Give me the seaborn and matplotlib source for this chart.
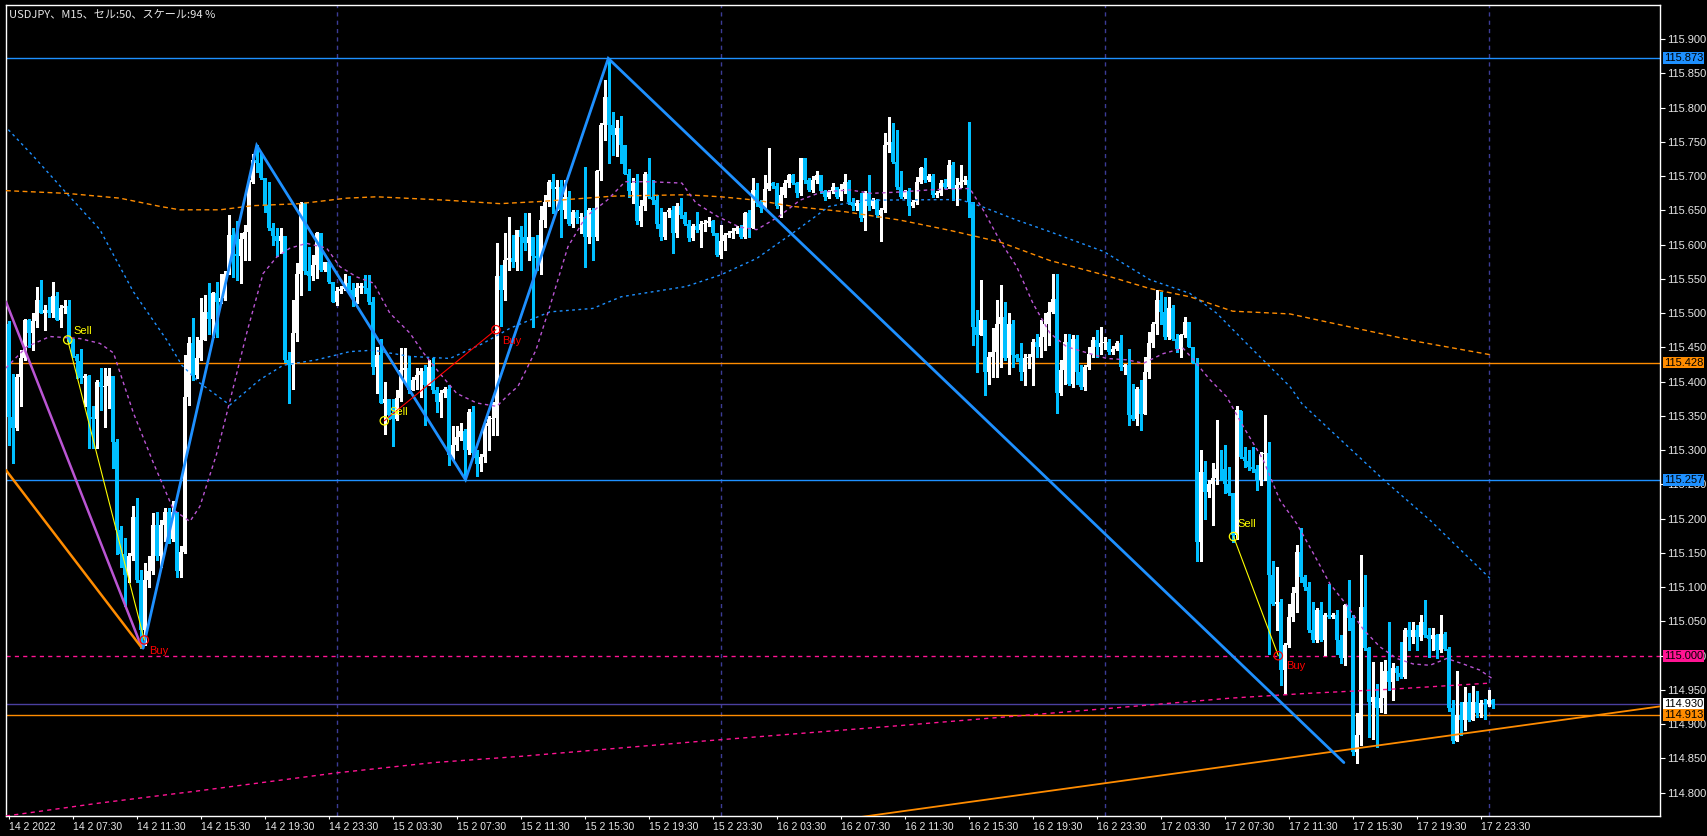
import numpy as np
import pandas as pd
import matplotlib
matplotlib.use("Agg")
import matplotlib.pyplot as plt
import seaborn as sns

# ---------------- data ----------------
open0 = 115.485
closes = [
115.349,115.332,115.407,115.434,115.490,115.471,115.488,115.519,115.501,115.505,
115.500,115.525,115.490,115.507,115.510,115.458,115.437,115.430,115.405,115.408,
115.349,115.345,115.400,115.393,115.394,115.408,115.312,115.183,115.149,115.118,
115.145,115.203,115.110,115.038,115.111,115.123,115.191,115.145,115.191,115.210,
115.170,115.210,115.123,115.152,115.378,115.456,115.410,115.434,115.461,115.502,
115.492,115.529,115.517,115.522,115.558,115.614,115.587,115.583,115.609,115.619,
115.692,115.724,115.720,115.697,115.658,115.624,115.613,115.605,115.613,115.432,
115.425,115.471,115.558,115.661,115.561,115.555,115.571,115.617,115.563,115.575,
115.546,115.517,115.533,115.536,115.544,115.534,115.524,115.537,115.540,115.537,
115.517,115.422,115.439,115.369,115.375,115.352,115.345,115.376,115.417,115.420,
115.388,115.403,115.410,115.415,115.395,115.422,115.388,115.371,115.383,115.390,
115.293,115.308,115.320,115.328,115.300,115.356,115.296,115.280,115.290,115.335,
115.345,115.347,115.554,115.534,115.578,115.580,115.575,115.622,115.612,115.602,
115.612,115.583,115.580,115.636,115.663,115.692,115.682,115.684,115.651,115.670,
115.631,115.648,115.639,115.641,115.612,115.651,115.612,115.707,115.775,115.816,
115.775,115.760,115.770,115.746,115.704,115.678,115.690,115.634,115.656,115.704,
115.670,115.665,115.631,115.612,115.648,115.651,115.617,115.656,115.644,115.631,
115.610,115.627,115.622,115.631,115.632,115.634,115.617,115.585,115.605,115.614,
115.617,115.620,115.624,115.612,115.646,115.624,115.680,115.661,115.653,115.682,
115.690,115.686,115.656,115.673,115.690,115.702,115.690,115.675,115.726,115.695,
115.680,115.695,115.702,115.678,115.670,115.678,115.685,115.670,115.682,115.692,
115.663,115.656,115.661,115.639,115.675,115.656,115.665,115.644,115.651,115.746,
115.750,115.721,115.685,115.670,115.678,115.656,115.663,115.692,115.712,115.695,
115.700,115.673,115.675,115.690,115.685,115.716,115.682,115.687,115.692,115.694,
115.663,115.480,115.468,115.490,115.414,115.436,115.443,115.485,115.495,115.434,
115.485,115.439,115.434,115.414,115.434,115.436,115.458,115.451,115.466,115.485,
115.502,115.521,115.383,115.417,115.458,115.397,115.463,115.414,115.392,115.422,
115.441,115.461,115.451,115.456,115.458,115.444,115.448,115.456,115.422,115.424,
115.351,115.346,115.390,115.353,115.414,115.456,115.485,115.519,115.502,115.465,
115.507,115.463,115.448,115.468,115.487,115.451,115.427,115.166,115.268,115.239,
115.251,115.259,115.273,115.272,115.251,115.237,115.176,115.358,115.290,115.285,
115.276,115.273,115.256,115.295,115.296,115.118,115.076,115.079,114.979,115.015,
115.057,115.091,115.152,115.115,115.101,115.037,115.023,115.067,115.023,115.059,
115.057,115.060,115.023,114.996,115.074,115.055,114.860,114.884,115.071,115.011,
114.933,114.940,114.923,114.938,114.977,114.962,114.982,114.975,114.969,115.037,
115.028,115.038,115.028,115.049,115.030,115.025,115.030,115.008,115.032,115.010,
114.923,114.875,114.913,114.906,114.933,114.906,114.933,114.917,114.931,114.929,
114.936,114.930]
highs = [
115.488,115.412,115.412,115.446,115.492,115.492,115.500,115.539,115.548,115.512,
115.524,115.546,115.531,115.512,115.520,115.519,115.463,115.441,115.448,115.412,
115.410,115.364,115.402,115.420,115.420,115.420,115.408,115.317,115.190,115.172,
115.150,115.219,115.230,115.125,115.136,115.146,115.208,115.210,115.198,115.215,
115.215,115.226,115.198,115.160,115.439,115.466,115.493,115.466,115.522,115.527,
115.544,115.531,115.546,115.558,115.561,115.643,115.624,115.634,115.617,115.629,
115.694,115.733,115.745,115.734,115.697,115.692,115.632,115.624,115.624,115.613,
115.444,115.519,115.573,115.663,115.661,115.597,115.585,115.619,115.617,115.575,
115.561,115.546,115.539,115.540,115.558,115.554,115.544,115.544,115.544,115.556,
115.556,115.524,115.451,115.463,115.400,115.375,115.375,115.388,115.449,115.449,
115.437,115.407,115.420,115.420,115.425,115.431,115.434,115.393,115.388,115.393,
115.395,115.335,115.335,115.340,115.331,115.360,115.365,115.300,115.295,115.340,
115.350,115.370,115.602,115.571,115.617,115.641,115.614,115.622,115.627,115.646,
115.646,115.612,115.614,115.656,115.673,115.695,115.704,115.695,115.695,115.695,
115.678,115.651,115.650,115.646,115.714,115.653,115.653,115.709,115.777,115.841,
115.872,115.794,115.782,115.788,115.746,115.710,115.697,115.704,115.665,115.706,
115.726,115.695,115.673,115.653,115.648,115.654,115.656,115.661,115.668,115.648,
115.636,115.631,115.648,115.634,115.636,115.640,115.636,115.617,115.629,115.617,
115.620,115.624,115.627,115.629,115.648,115.650,115.697,115.690,115.665,115.702,
115.741,115.692,115.690,115.685,115.695,115.704,115.704,115.692,115.727,115.727,
115.697,115.700,115.707,115.702,115.680,115.680,115.690,115.685,115.688,115.703,
115.694,115.668,115.665,115.675,115.678,115.702,115.668,115.667,115.654,115.763,
115.787,115.777,115.768,115.707,115.680,115.683,115.665,115.699,115.714,115.726,
115.704,115.704,115.678,115.694,115.696,115.724,115.721,115.697,115.716,115.701,
115.779,115.663,115.504,115.548,115.490,115.443,115.478,115.519,115.541,115.517,
115.500,115.490,115.440,115.456,115.441,115.440,115.463,115.470,115.490,115.500,
115.517,115.558,115.558,115.431,115.470,115.470,115.468,115.468,115.424,115.424,
115.451,115.465,115.475,115.480,115.465,115.463,115.452,115.460,115.468,115.426,
115.448,115.397,115.392,115.402,115.436,115.473,115.487,115.534,115.531,115.524,
115.524,115.512,115.470,115.470,115.495,115.487,115.451,115.434,115.300,115.285,
115.256,115.281,115.344,115.300,115.307,115.276,115.234,115.365,115.358,115.305,
115.300,115.305,115.278,115.297,115.351,115.312,115.139,115.130,115.083,115.018,
115.076,115.101,115.161,115.186,115.118,115.108,115.079,115.069,115.079,115.062,
115.105,115.062,115.067,115.030,115.076,115.110,115.059,114.916,115.147,115.118,
115.013,114.991,114.959,114.991,114.994,115.049,114.989,114.985,115.020,115.040,
115.049,115.049,115.045,115.059,115.081,115.040,115.040,115.032,115.059,115.035,
115.012,114.935,114.977,114.933,114.955,114.945,114.956,114.948,114.935,114.937,
114.950,114.937]
lows = [
115.308,115.281,115.330,115.364,115.432,115.451,115.446,115.480,115.500,115.476,
115.495,115.495,115.490,115.480,115.500,115.456,115.436,115.405,115.398,115.364,
115.303,115.303,115.303,115.359,115.334,115.361,115.274,115.149,115.130,115.072,
115.108,115.140,115.107,115.011,115.015,115.100,115.120,115.140,115.130,115.168,
115.165,115.168,115.115,115.115,115.150,115.366,115.402,115.405,115.432,115.461,
115.470,115.466,115.466,115.515,115.519,115.558,115.553,115.548,115.544,115.578,
115.578,115.690,115.706,115.696,115.648,115.622,115.600,115.583,115.588,115.429,
115.369,115.390,115.459,115.527,115.558,115.534,115.549,115.551,115.561,115.561,
115.544,115.517,115.512,115.530,115.534,115.529,115.510,115.515,115.529,115.529,
115.514,115.412,115.383,115.369,115.323,115.345,115.306,115.344,115.372,115.398,
115.383,115.388,115.390,115.378,115.337,115.408,115.383,115.356,115.349,115.378,
115.279,115.286,115.301,115.315,115.257,115.295,115.290,115.262,115.270,115.283,
115.300,115.322,115.322,115.481,115.519,115.563,115.568,115.563,115.563,115.592,
115.578,115.480,115.563,115.558,115.626,115.656,115.646,115.651,115.612,115.639,
115.629,115.626,115.632,115.617,115.568,115.602,115.578,115.607,115.695,115.753,
115.719,115.731,115.729,115.719,115.704,115.670,115.661,115.631,115.627,115.651,
115.668,115.660,115.624,115.607,115.609,115.640,115.588,115.612,115.639,115.629,
115.605,115.607,115.619,115.597,115.620,115.628,115.614,115.583,115.580,115.592,
115.612,115.610,115.617,115.610,115.610,115.612,115.639,115.656,115.648,115.653,
115.680,115.683,115.653,115.641,115.670,115.685,115.688,115.670,115.673,115.690,
115.678,115.677,115.690,115.675,115.665,115.668,115.675,115.668,115.665,115.676,
115.660,115.650,115.650,115.634,115.622,115.651,115.654,115.640,115.605,115.648,
115.736,115.719,115.682,115.668,115.668,115.644,115.655,115.660,115.690,115.692,
115.693,115.670,115.670,115.673,115.683,115.683,115.665,115.658,115.684,115.689,
115.641,115.453,115.414,115.468,115.380,115.397,115.407,115.407,115.422,115.432,
115.412,115.422,115.430,115.402,115.395,115.420,115.395,115.436,115.436,115.446,
115.453,115.500,115.354,115.380,115.397,115.395,115.392,115.397,115.390,115.388,
115.419,115.436,115.436,115.441,115.448,115.441,115.440,115.446,115.417,115.412,
115.337,115.344,115.337,115.329,115.378,115.405,115.451,115.470,115.485,115.463,
115.463,115.461,115.444,115.436,115.466,115.451,115.427,115.139,115.139,115.200,
115.232,115.191,115.251,115.256,115.237,115.234,115.166,115.171,115.288,115.276,
115.271,115.268,115.242,115.249,115.256,115.003,115.074,115.037,114.957,114.945,
115.013,115.050,115.064,115.108,115.096,115.035,115.020,115.020,115.021,115.001,
115.055,115.055,115.003,114.989,114.986,115.037,114.855,114.843,114.870,115.008,
114.882,114.879,114.867,114.918,114.916,114.950,114.935,114.965,114.967,114.967,
115.008,115.018,115.008,115.023,115.028,114.998,115.008,114.996,115.006,115.008,
114.920,114.873,114.877,114.884,114.892,114.905,114.907,114.911,114.911,114.907,
114.926,114.923]

# moving averages (bar index, price)
ma_orange_x = [-0.7,14.5,27.8,37.8,42.8,52.8,61,72.8,84.5,92,109.5,122.8,132.6,151.3,169.3,178,187,196,209.3,222.8,235.3,247.8,260.3,273.8,285.3,295.3,306,320.3,335.3,352.8,370.8]
ma_orange_y = [115.679,115.675,115.668,115.656,115.651,115.651,115.657,115.660,115.668,115.670,115.665,115.660,115.663,115.671,115.673,115.670,115.665,115.656,115.648,115.636,115.621,115.604,115.577,115.556,115.536,115.524,115.503,115.499,115.480,115.458,115.439]
ma_blue_x = [-0.1,6.2,14.5,22.8,31.2,39.5,43.3,47.8,55.3,62.8,68.6,77,85.3,91.1,100.3,110.3,118.6,125.3,135.3,146,153.1,169.3,178,187,196,205.1,213.8,237.8,243.6,252,260.3,273.8,285.3,295.3,302,310.3,320.3,323.3,343.7,355.3,370.3]
ma_blue_y = [115.768,115.729,115.675,115.622,115.531,115.461,115.424,115.398,115.366,115.403,115.424,115.432,115.444,115.446,115.437,115.434,115.456,115.478,115.502,115.507,115.524,115.539,115.556,115.580,115.617,115.656,115.665,115.666,115.655,115.636,115.619,115.590,115.549,115.529,115.500,115.451,115.393,115.368,115.257,115.198,115.113]
ma_purple_x = [-0.7,4.5,10.3,17.8,22.8,26.2,31.2,36.2,41.2,45.3,47.8,52,56.2,59.5,63.6,67,70.3,74.5,79.5,82.8,87,91.2,95.3,100.3,103.7,107.8,112,117,122,125.3,127.3,131.8,135.3,139.8,144.3,149.6,154.1,160.3,168.3,171.8,177.3,182.6,187,192.5,197.8,203.2,210.3,215.6,222.8,230,237.8,240.3,243.7,247.8,252,256.1,260.3,264.5,270.3,274.5,279.5,283.7,288.6,293.6,296.2,300.3,304.5,308.7,313.7,317.8,322,326.2,330.3,334.5,338.7,342.8,347,351.1,355.3,359.5,363.6,367.8,370.8]
ma_purple_y = [115.420,115.451,115.466,115.463,115.456,115.442,115.354,115.281,115.213,115.196,115.218,115.295,115.393,115.471,115.558,115.582,115.595,115.602,115.595,115.568,115.553,115.544,115.500,115.471,115.442,115.412,115.383,115.369,115.364,115.383,115.393,115.446,115.510,115.597,115.641,115.665,115.692,115.692,115.690,115.661,115.641,115.626,115.622,115.641,115.665,115.677,115.680,115.675,115.677,115.680,115.682,115.682,115.650,115.606,115.568,115.514,115.471,115.451,115.441,115.434,115.432,115.427,115.441,115.449,115.432,115.403,115.378,115.334,115.285,115.227,115.193,115.149,115.105,115.074,115.038,115.013,114.996,114.988,114.986,114.996,114.988,114.979,114.967]
ma_pink_x = [-0.7,22.8,47.8,72.8,82,106.2,127.8,172.8,222.8,272.8,305.3,324.5,345.3,359.1,370.3]
ma_pink_y = [114.766,114.785,114.803,114.822,114.829,114.844,114.853,114.875,114.898,114.922,114.938,114.945,114.951,114.956,114.960]

# drawn objects
zigzag_x = [33.6, 62.0, 114.2, 149.9, 333.8]
zigzag_y = [115.011, 115.745, 115.257, 115.872, 114.844]
orchid_line_x = [-0.7, 33.2]
orchid_line_y = [115.517, 115.013]
orange_fan_x = [-0.7, 33.2]
orange_fan_y = [115.271, 115.012]
orange_trend_x = [200.0, 412.8]
orange_trend_y = [114.754, 114.926]

signal_lines = [  # (x0, y0, x1, y1, colour)
    (14.75, 115.461, 33.9, 115.023, "#FFFF00"),
    (93.9, 115.343, 121.8, 115.476, "#FF0000"),
    (306.2, 115.174, 317.4, 115.000, "#FFFF00"),
]
sell_x = [14.75, 93.9, 306.2]
sell_y = [115.461, 115.343, 115.174]
buy_x = [33.9, 121.8, 317.4]
buy_y = [115.023, 115.476, 115.000]
sell_text_x = [16.15, 95.15, 307.2]
sell_text_y = [115.474, 115.356, 115.192]
buy_text_x = [35.15, 123.3, 319.3]
buy_text_y = [115.007, 115.459, 114.985]

level_prices = [115.873, 115.428, 115.257, 115.000, 114.930, 114.913]
level_colors = ["#1E90FF", "#FF8C00", "#1E90FF", "#FF1493", "#4A3F9F", "#FF8C00"]
level_box = ["#1E90FF", "#FF8C00", "#1E90FF", "#FF1493", "#FFFFFF", "#FF8C00"]
level_dashed = [False, False, False, True, False, False]

price_ticks = [115.900,115.850,115.800,115.750,115.700,115.650,115.600,115.550,115.500,
               115.450,115.400,115.350,115.300,115.250,115.200,115.150,115.100,115.050,
               115.000,114.950,114.900,114.850,114.800]
time_tick_bars = [0,16,32,48,64,80,96,112,128,144,160,176,192,208,224,240,256,272,288,304,320,336,352,368]
time_tick_labels = ["14 2 2022","14 2 07:30","14 2 11:30","14 2 15:30","14 2 19:30","14 2 23:30",
                    "15 2 03:30","15 2 07:30","15 2 11:30","15 2 15:30","15 2 19:30","15 2 23:30",
                    "16 2 03:30","16 2 07:30","16 2 11:30","16 2 15:30","16 2 19:30","16 2 23:30",
                    "17 2 03:30","17 2 07:30","17 2 11:30","17 2 15:30","17 2 19:30","17 2 23:30"]
day_separator_bars = [82, 178, 274, 370]
title = "USDJPY、M15、セル:50、スケール:94 %"

# ---------------- drawing ----------------
sns.set_theme(style="dark")
plt.rcParams["font.family"] = ["Liberation Sans", "DejaVu Sans"]
plt.rcParams["lines.scale_dashes"] = False
plt.rcParams["axes.facecolor"] = "black"
plt.rcParams["figure.facecolor"] = "black"

W, H = 1707, 836
fig = plt.figure(figsize=(W / 100, H / 100), dpi=100)
ax = fig.add_axes([6 / W, 20 / H, 1654 / W, 811 / H])
ax.set_facecolor("black")

n = len(closes)
bars = np.arange(n)
opens = np.array([open0] + closes[:-1])
c = np.array(closes)
hi = np.maximum(np.array(highs), np.maximum(opens, c))
lo = np.minimum(np.array(lows), np.minimum(opens, c))
up = c >= opens
colors = np.where(up, "#FFFFFF", "#00BFFF")
body_bottom = np.minimum(opens, c)
body_h = np.maximum(np.abs(c - opens), 0.0012)

# day separators
for b in day_separator_bars:
    ax.axvline(b, color="#3C3C96", lw=1.0, linestyle=(0, (3, 3)), zorder=1)

# horizontal levels
for p, col, dsh in zip(level_prices, level_colors, level_dashed):
    ax.axhline(p, color=col, lw=1.0, linestyle=(0, (3, 3)) if dsh else "-", zorder=2)

# candles
ax.vlines(bars, lo, hi, colors=colors, lw=1.0, zorder=3, antialiased=False)
ax.bar(bars, body_h, bottom=body_bottom, width=0.75, color=colors, linewidth=0,
       zorder=3, antialiased=False)

# moving averages via seaborn
ma_specs = [
    (ma_orange_x, ma_orange_y, "#FF8C00", (0, (3.5, 2.5))),
    (ma_blue_x, ma_blue_y, "#1E90FF", (0, (2, 2.5))),
    (ma_purple_x, ma_purple_y, "#BA55D3", (0, (2.5, 2.5))),
    (ma_pink_x, ma_pink_y, "#FF1493", (0, (3, 3))),
]
for xs, ys, col, ls in ma_specs:
    df = pd.DataFrame({"bar": xs, "price": ys})
    sns.lineplot(data=df, x="bar", y="price", ax=ax, color=col, lw=1.0,
                 sort=False, estimator=None, zorder=4)
    ax.lines[-1].set_linestyle(ls)

# drawn lines
ax.plot(orchid_line_x, orchid_line_y, color="#BA55D3", lw=1.8, zorder=5)
ax.plot(orange_fan_x, orange_fan_y, color="#FF8C00", lw=1.8, zorder=5)
ax.plot(orange_trend_x, orange_trend_y, color="#FF8C00", lw=1.3, zorder=5)
ax.plot(zigzag_x, zigzag_y, color="#1E90FF", lw=2.0, zorder=5, solid_joinstyle="miter")
for x0, y0, x1, y1, col in signal_lines:
    ax.plot([x0, x1], [y0, y1], color=col, lw=0.8, zorder=6)

ax.scatter(sell_x, sell_y, s=36, facecolors="none", edgecolors="#FFFF00", linewidths=0.9, zorder=7)
ax.scatter(buy_x, buy_y, s=36, facecolors="none", edgecolors="#FF0000", linewidths=0.9, zorder=7)
for x, y in zip(sell_text_x, sell_text_y):
    ax.text(x, y, "Sell", color="#FFFF00", fontsize=8, ha="left", va="center", zorder=8)
for x, y in zip(buy_text_x, buy_text_y):
    ax.text(x, y, "Buy", color="#FF0000", fontsize=8, ha="left", va="center", zorder=8)

# axes limits
ax.set_xlim(-0.675, 412.825)
ax.set_ylim(114.766, 115.950)
ax.grid(False)

# spines
for s in ax.spines.values():
    s.set_color("white")
    s.set_linewidth(1.0)
    s.set_visible(True)

# y ticks on the right
ax.yaxis.tick_right()
ax.set_yticks(price_ticks)
ax.set_yticklabels([f"{t:.3f}" for t in price_ticks])
ax.tick_params(axis="y", colors="white", labelcolor="#E6E6E6", length=3.5, width=0.8,
               direction="out", pad=1.5, labelsize=8, left=False, right=True)
# x ticks at the bottom
ax.set_xticks(time_tick_bars)
ax.set_xticklabels(time_tick_labels, ha="left")
ax.tick_params(axis="x", colors="white", labelcolor="#E6E6E6", length=2.5, width=0.8,
               direction="out", pad=2.0, labelsize=7.5, bottom=True)
ax.set_xlabel("")
ax.set_ylabel("")

# price label boxes on the right scale
ytrans = ax.get_yaxis_transform()
for p, bc in zip(level_prices, level_box):
    ax.text(1.0025, p, f"{p:.3f}", transform=ytrans, fontsize=8, color="black",
            ha="left", va="center", zorder=20, clip_on=False,
            bbox=dict(boxstyle="square,pad=0.08", fc=bc, ec="none"))

fig.text(9 / W, 1 - 15.5 / H, title, fontsize=8, color="#E6E6E6", ha="left", va="center",
         family=["Noto Sans CJK JP", "DejaVu Sans"])

fig.savefig("out.png", dpi=100, facecolor="black")
